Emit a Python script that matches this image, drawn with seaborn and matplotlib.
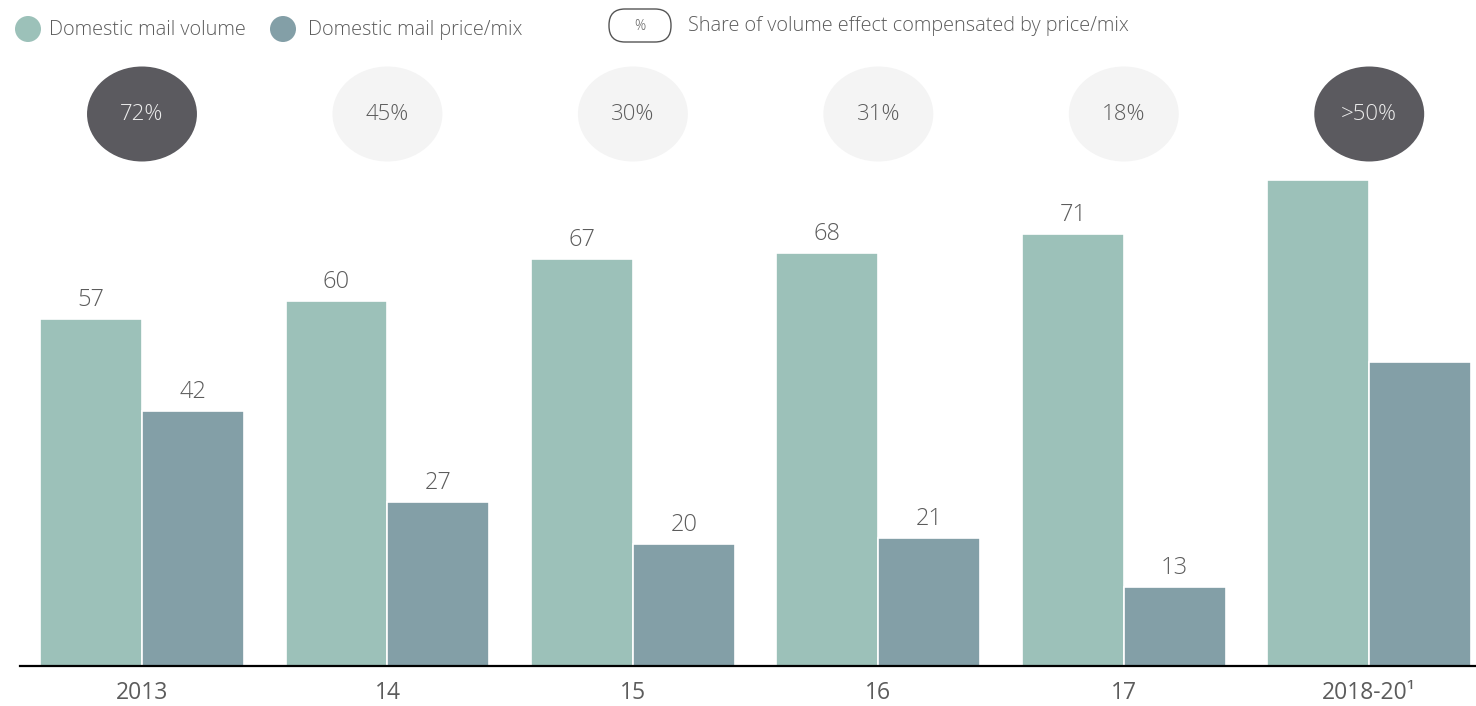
import matplotlib
matplotlib.use("Agg")
import matplotlib.pyplot as plt
from matplotlib.patches import Ellipse, FancyBboxPatch
import seaborn as sns
import pandas as pd

# --- data -------------------------------------------------------------
periods = ["2013", "14", "15", "16", "17", "2018-20\u00b9"]
volume_effect = [57, 60, 67, 68, 71, 80]
price_mix_effect = [42, 27, 20, 21, 13, 50]
volume_labels = ["57", "60", "67", "68", "71", ""]
price_labels = ["42", "27", "20", "21", "13", ""]
share_compensated = ["72%", "45%", "30%", "31%", "18%", ">50%"]
share_highlight = [True, False, False, False, False, True]
series_names = ["Domestic mail volume", "Domestic mail price/mix"]

# --- style ------------------------------------------------------------
sns.set_theme(style="white")
plt.rcParams["font.family"] = ["Open Sans", "DejaVu Sans"]
TEXT = "#5c5c5c"
GREEN = "#9cc1b9"
TEAL = "#839fa7"
DARK = "#5b5a5f"
LIGHT = "#f4f4f4"

df = pd.DataFrame({
    "period": periods * 2,
    "value": volume_effect + price_mix_effect,
    "series": [series_names[0]] * len(periods) + [series_names[1]] * len(periods),
})

W, H = 1476, 706
fig = plt.figure(figsize=(W / 100, H / 100), dpi=100)
ax = fig.add_axes([20 / W, 40 / H, 1 - 20 / W, 666 / H])

sns.barplot(data=df, x="period", y="value", hue="series", order=periods,
            hue_order=series_names, palette=[GREEN, TEAL], saturation=1,
            width=0.83, edgecolor="white", linewidth=1.2, legend=False, ax=ax)

px_per_unit = 6.08
ax.set_ylim(0, 666 / px_per_unit)
ax.set_xlim(-0.497, 5.435)

# value labels above bars
for container, labels in zip(ax.containers, [volume_labels, price_labels]):
    ax.bar_label(container, labels=labels, padding=5, fontsize=17,
                 color=TEXT, fontweight="light")

# share bubbles above each group
bubble_y = (666 - 114) / px_per_unit
for i, (txt, hi) in enumerate(zip(share_compensated, share_highlight)):
    ax.add_patch(Ellipse((i, bubble_y), width=110 / 245.6,
                         height=95 / px_per_unit,
                         facecolor=DARK if hi else LIGHT, edgecolor="none",
                         clip_on=False))
    ax.text(i, bubble_y, txt, ha="center", va="center", fontsize=16,
            color="#ececec" if hi else TEXT, fontweight="light")

# axes cosmetics
for s in ["top", "right", "left"]:
    ax.spines[s].set_visible(False)
ax.spines["bottom"].set_color("black")
ax.spines["bottom"].set_linewidth(1.6)
ax.set_yticks([])
ax.set_xlabel("")
ax.set_ylabel("")
ax.tick_params(axis="x", length=0, pad=11, labelsize=16.5, labelcolor=TEXT)

# legend row, laid out in pixel units on a transparent overlay
lg = fig.add_axes([0, 0, 1, 1], facecolor="none")
lg.set_xlim(0, W)
lg.set_ylim(H, 0)
lg.axis("off")

for cx, col, label, tx in [(28, GREEN, series_names[0], 49),
                           (283, TEAL, series_names[1], 308)]:
    lg.add_patch(Ellipse((cx, 29), 26, 26, facecolor=col, edgecolor="none"))
    lg.text(tx, 30, label, ha="left", va="center", fontsize=14.3,
            color=TEXT, fontweight="light")

lg.add_patch(FancyBboxPatch((609, 9), 62, 33,
                            boxstyle="round,pad=0,rounding_size=16",
                            facecolor="white", edgecolor="#555555",
                            linewidth=1.0))
lg.text(640, 27, "%", ha="center", va="center", fontsize=10,
        color=TEXT, fontweight="light")
lg.text(688, 26, "Share of volume effect compensated by price/mix",
        ha="left", va="center", fontsize=14.3, color=TEXT, fontweight="light")

fig.savefig("out.png", dpi=100)
